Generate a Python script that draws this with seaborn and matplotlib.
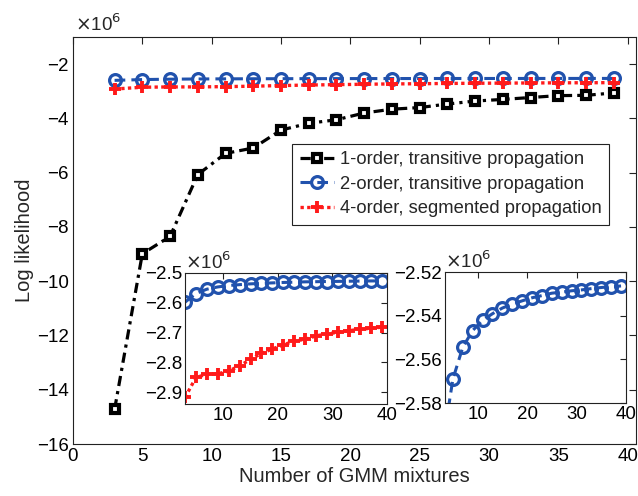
import numpy as np
import pandas as pd
import matplotlib
matplotlib.use("Agg")
import matplotlib.pyplot as plt
import seaborn as sns
from matplotlib.lines import Line2D

# ---- data (values in units of 1e6) ----
mixtures = [3, 5, 7, 9, 11, 13, 15, 17, 19, 21, 23, 25, 27, 29, 31, 33, 35, 37, 39]
order1_transitive = [-14.72, -8.99, -8.35, -6.07, -5.29, -5.09, -4.43, -4.18, -4.05, -3.80,
                     -3.66, -3.60, -3.47, -3.36, -3.30, -3.23, -3.16, -3.15, -3.06]
order2_transitive = [-2.598, -2.569, -2.5544, -2.5468, -2.5421, -2.5391, -2.5365, -2.5347,
                     -2.5332, -2.5318, -2.5308, -2.5297, -2.5292, -2.5286, -2.5282, -2.5276,
                     -2.5271, -2.5267, -2.5264]
order4_segmented = [-2.918, -2.851, -2.840, -2.839, -2.829, -2.812, -2.790, -2.770, -2.755,
                    -2.742, -2.728, -2.723, -2.711, -2.705, -2.699, -2.694, -2.689, -2.686,
                    -2.682]
labels = ["1-order, transitive propagation",
          "2-order, transitive propagation",
          "4-order, segmented propagation"]
main_xticks = [0, 5, 10, 15, 20, 25, 30, 35, 40]
main_yticks = [-16, -14, -12, -10, -8, -6, -4, -2]
inset1_yticks = [-2.9, -2.8, -2.7, -2.6, -2.5]
inset2_yticks = [-2.58, -2.56, -2.54, -2.52]
inset_xticks = [10, 20, 30, 40]

df = pd.DataFrame({"x": mixtures, "o1": order1_transitive,
                   "o2": order2_transitive, "o4": order4_segmented})

sns.set_theme(style="white")
plt.rcParams["font.family"] = ["Liberation Sans", "DejaVu Sans"]
plt.rcParams["xtick.direction"] = "in"
plt.rcParams["ytick.direction"] = "in"
plt.rcParams["lines.dashdot_pattern"] = [3.2, 1.6, 1.0, 1.6]
plt.rcParams["lines.dashed_pattern"] = [3.5, 2.0]
plt.rcParams["lines.dotted_pattern"] = [1.0, 1.0]

BLACK = "#000000"
BLUE = "#2152ad"
RED = "#ff1a1a"
TICK_FS = 13.5
LABEL_FS = 14.5

black_kw = dict(color=BLACK, linestyle="-.", linewidth=2.3, marker="s", markersize=6,
                markerfacecolor="white", markeredgecolor=BLACK, markeredgewidth=3.0)
blue_kw = dict(color=BLUE, linestyle="--", linewidth=2.2, marker="o", markersize=8.5,
               markerfacecolor="none", markeredgecolor=BLUE, markeredgewidth=2.3)
red_kw = dict(color=RED, linestyle=":", linewidth=2.4, marker="+", markersize=9,
              markerfacecolor=RED, markeredgecolor=RED, markeredgewidth=2.8)

fig = plt.figure(figsize=(6.38, 4.96), dpi=100)
ax = fig.add_axes([0.1144, 0.1048, 0.8825, 0.8206])

sns.lineplot(data=df, x="x", y="o1", ax=ax, **black_kw)
sns.lineplot(data=df, x="x", y="o2", ax=ax, **blue_kw)
sns.lineplot(data=df, x="x", y="o4", ax=ax, **red_kw)

ax.set_xlim(0, 40.6)
ax.set_ylim(-16, -1)
ax.set_xticks(main_xticks)
ax.set_yticks(main_yticks)
ax.tick_params(axis="both", which="both", labelsize=TICK_FS, length=5, width=0.8,
               top=True, right=True, colors="#222222", labelcolor="black", pad=3)
ax.set_xlabel("Number of GMM mixtures", fontsize=LABEL_FS, labelpad=1)
ax.set_ylabel("Log likelihood", fontsize=LABEL_FS, labelpad=2)
for s in ax.spines.values():
    s.set_color("#222222")
    s.set_linewidth(0.8)
ax.text(0.003, 1.004, r"$\times$10$^{6}$", transform=ax.transAxes, fontsize=13.5,
        ha="left", va="bottom")

handles = [Line2D([], [], **black_kw), Line2D([], [], **blue_kw), Line2D([], [], **red_kw)]
leg = ax.legend(handles, labels, loc="upper right", bbox_to_anchor=(0.952, 0.738),
                fontsize=13.2, frameon=True, fancybox=False, edgecolor="#222222",
                framealpha=1, handlelength=1.9, handletextpad=0.3, borderpad=0.4,
                labelspacing=0.42, borderaxespad=0)
leg.get_frame().set_linewidth(0.8)

def style_inset(a, xlim, ylim, yticks):
    a.set_xlim(*xlim)
    a.set_ylim(*ylim)
    a.set_xticks(inset_xticks)
    a.set_yticks(yticks)
    a.set_xlabel("")
    a.set_ylabel("")
    a.tick_params(axis="both", labelsize=TICK_FS, length=4, width=0.8, top=True, right=True,
                  colors="#222222", labelcolor="black", pad=2)
    for s in a.spines.values():
        s.set_color("#222222")
        s.set_linewidth(0.8)
    a.text(0.0, 1.0, r"$\times$10$^{6}$", transform=a.transAxes, fontsize=13.5,
           ha="left", va="bottom")

# inset 1
ax1 = fig.add_axes([0.290, 0.1855, 0.3166, 0.2641])
sns.lineplot(data=df, x="x", y="o2", ax=ax1, **blue_kw)
sns.lineplot(data=df, x="x", y="o4", ax=ax1, **red_kw)
style_inset(ax1, (3, 40), (-2.94, -2.5), inset1_yticks)

# inset 2
ax2 = fig.add_axes([0.6975, 0.1875, 0.2837, 0.2641])
sns.lineplot(data=df, x="x", y="o2", ax=ax2, **blue_kw)
style_inset(ax2, (3.4, 40), (-2.58, -2.52), inset2_yticks)

fig.savefig("out.png", dpi=100, facecolor="white")
